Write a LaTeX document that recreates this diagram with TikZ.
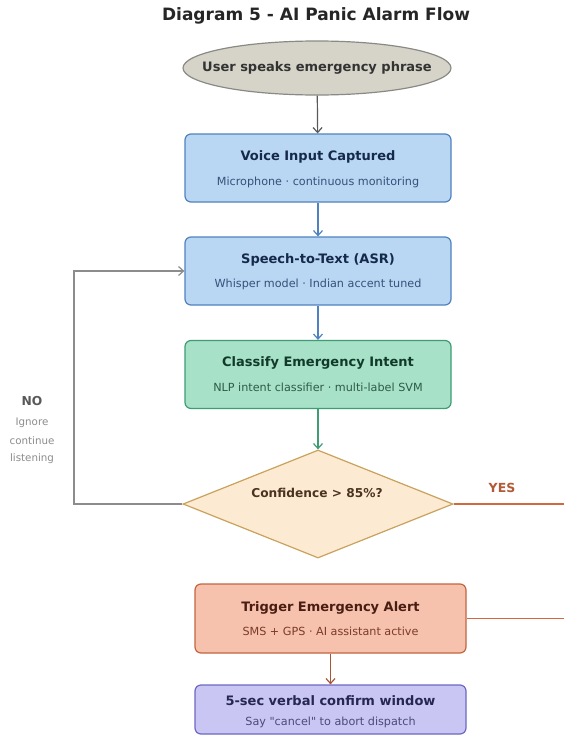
\documentclass[tikz,border=0pt]{standalone}
\usepackage{fontspec}
\setmainfont{DejaVu Sans}
\usepackage{xcolor}
\usetikzlibrary{arrows.meta}
\usetikzlibrary{shapes.geometric}

\newcommand\straightquote{\XeTeXglyph\XeTeXcharglyph"22\relax}

\definecolor{ellfill}{HTML}{D6D4C9}
\definecolor{elldraw}{HTML}{8A8A85}
\definecolor{bluefill}{HTML}{B9D6F3}
\definecolor{bluedraw}{HTML}{4F82BF}
\definecolor{bluettl}{HTML}{15294A}
\definecolor{bluesub}{HTML}{34527A}
\definecolor{greenfill}{HTML}{A6E1C8}
\definecolor{greendraw}{HTML}{3F9C74}
\definecolor{greenttl}{HTML}{123A2A}
\definecolor{greensub}{HTML}{2F5A48}
\definecolor{decfill}{HTML}{FCEBD2}
\definecolor{decdraw}{HTML}{C9A25E}
\definecolor{dectext}{HTML}{4A3320}
\definecolor{redfill}{HTML}{F6C2AE}
\definecolor{reddraw}{HTML}{C4653F}
\definecolor{redttl}{HTML}{4A1D12}
\definecolor{redsub}{HTML}{7A3B2A}
\definecolor{purfill}{HTML}{CAC6F4}
\definecolor{purdraw}{HTML}{6C68C4}
\definecolor{purttl}{HTML}{262652}
\definecolor{pursub}{HTML}{4A4A7A}
\definecolor{yescol}{HTML}{D2693E}

\tikzset{
  box/.style={rectangle, rounded corners=6pt, line width=1.2pt, inner sep=0pt},
  ttl/.style={font=\fontsize{13}{15}\selectfont\bfseries},
  sub/.style={font=\fontsize{11.2}{13}\selectfont},
}

\begin{document}
\begin{tikzpicture}[x=1pt,y=-1pt,>={Straight Barb[length=5pt,width=9pt]}]
      \useasboundingbox[fill=white] (0,0) rectangle (563,736);

      \node[font=\fontsize{17}{20}\selectfont\bfseries, text=black!85] (title) at (316,16) {Diagram 5 - AI Panic Alarm Flow};

      \node[ellipse, fill=ellfill, draw=elldraw, line width=1.2pt, minimum width=268pt, minimum height=54pt, inner sep=0pt] (user) at (317,68) {};
      \node[ttl, text=black!80] (usert) at (317,68) {User speaks emergency phrase};

      \node[box, fill=bluefill, draw=bluedraw, minimum width=266pt, minimum height=68pt] (voice) at (318,168) {};
      \node[ttl, text=bluettl] (voicet) at (318,157) {Voice Input Captured};
      \node[sub, text=bluesub] (voices) at (318,182) {Microphone · continuous monitoring};

      \node[box, fill=bluefill, draw=bluedraw, minimum width=266pt, minimum height=68pt] (speech) at (318,271) {};
      \node[ttl, text=bluettl] (speecht) at (318,260) {Speech-to-Text (ASR)};
      \node[sub, text=bluesub] (speechs) at (318,284) {Whisper model · Indian accent tuned};

      \node[box, fill=greenfill, draw=greendraw, minimum width=266pt, minimum height=68pt] (intent) at (318,374.5) {};
      \node[ttl, text=greenttl] (intentt) at (318,363) {Classify Emergency Intent};
      \node[sub, text=greensub] (intents) at (318,387) {NLP intent classifier · multi-label SVM};

      \node[diamond, fill=decfill, draw=decdraw, line width=1.2pt, minimum width=270pt, minimum height=108pt, inner sep=0pt] (conf) at (318,504) {};
      \node[font=\fontsize{12.2}{14}\selectfont\bfseries, text=dectext] (conft) at (317,493) {Confidence > 85\%?};

      \node[box, fill=redfill, draw=reddraw, minimum width=271pt, minimum height=69pt] (alert) at (330.5,618.5) {};
      \node[ttl, text=redttl] (alertt) at (330.5,608) {Trigger Emergency Alert};
      \node[sub, text=redsub] (alerts) at (330.5,631) {SMS + GPS · AI assistant active};

      \node[box, fill=purfill, draw=purdraw, minimum width=271pt, minimum height=49pt] (window) at (330.5,709.5) {};
      \node[ttl, text=purttl] (windowt) at (330.5,701) {5-sec verbal confirm window};
      \node[sub, text=pursub] (windows) at (330.5,722) {Say \straightquote cancel\straightquote{} to abort dispatch};

      % connectors
      \draw[->, line width=1.2pt, black!65] (user) -- (voice);
      \draw[->, line width=1.2pt, bluedraw] (voice) -- (speech);
      \draw[->, line width=1.2pt, bluedraw] (speech) -- (intent);
      \draw[->, line width=1.2pt, greendraw] (intent) -- (conf);
      \draw[->, line width=1.2pt, reddraw!85!black] (alert) -- (window);

      % NO loop back to ASR
      \coordinate (noturn) at (74,504);
      \draw[->, line width=1.2pt, black!45] (conf.west) -- (noturn) |- (speech.west);
      \node[font=\fontsize{12.3}{14}\selectfont\bfseries, text=black!65] (nolbl) at (32,401) {NO};
      \node[font=\fontsize{10.3}{12}\selectfont, text=black!45] (noa) at (32,423) {Ignore};
      \node[font=\fontsize{10.3}{12}\selectfont, text=black!45] (nob) at (32,441) {continue};
      \node[font=\fontsize{10.3}{12}\selectfont, text=black!45] (noc) at (32,459) {listening};

      % YES path to alert
      \coordinate (yesturn) at (566,504);
      \draw[line width=1.4pt, yescol] (conf.east) -- (yesturn) |- (alert.east);
      \node[font=\fontsize{12.5}{14}\selectfont\bfseries, text=yescol!85!black] (yeslbl) at (502,488) {YES};
\end{tikzpicture}
\end{document}
